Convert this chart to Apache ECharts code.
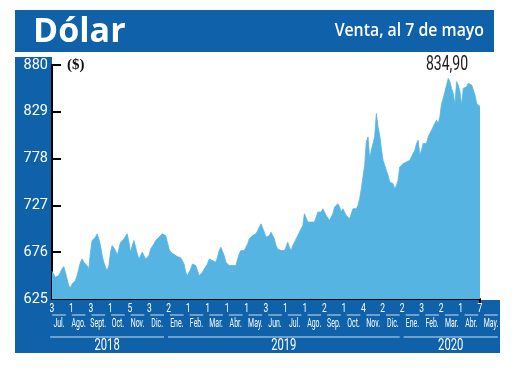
<!DOCTYPE html>
<html>
<head>
<meta charset="utf-8">
<script src="https://cdn.jsdelivr.net/npm/echarts@6/dist/echarts.min.js"></script>
<style>html,body{margin:0;padding:0;background:#fff;}#c{width:520px;height:370px;}</style>
</head>
<body>
<div id="c"></div>
<script>
const title = 'Dólar';
const subtitle = 'Venta, al 7 de mayo';
const unitLabel = '($)';
const lastValueLabel = '834,90';
const yTickLabels = ['625', '676', '727', '778', '829', '880'];
const dayLabels = ['3','1','3','1','5','3','2','1','1','1','1','3','1','1','2','1','4','2','2','3','2','1','7'];
const monthLabels = ['Jul.','Ago.','Sept.','Oct.','Nov.','Dic.','Ene.','Feb.','Mar.','Abr.','May.','Jun.','Jul.','Ago.','Sep.','Oct.','Nov.','Dic.','Ene.','Feb.','Mar.','Abr.','May.'];
const years = ['2018', '2019', '2020'];
const monthsPerYear = [6, 12, 5];
const venta = [
655.2, 654.1, 648.6, 649.4, 650.5, 654.1, 657.8, 660.3, 654.1, 646.8,
639.5, 637.0, 641.4, 643.2, 645.0, 650.5, 657.8, 665.0, 668.7, 665.0,
666.9, 661.4, 657.8, 676.0, 688.7, 686.9, 692.4, 696.0, 690.5, 683.3,
672.3, 665.0, 659.6, 655.9, 661.4, 676.0, 683.3, 681.4, 677.8, 672.3,
674.2, 686.9, 686.9, 690.5, 692.4, 696.0, 686.9, 676.0, 683.3, 688.7,
681.4, 674.2, 668.7, 672.3, 676.0, 672.3, 668.7, 666.9, 672.3, 679.6,
681.4, 685.1, 688.7, 690.5, 692.4, 694.2, 696.0, 696.0, 694.2, 686.9,
679.6, 676.0, 674.2, 673.4, 672.3, 671.2, 670.5, 669.8, 670.5, 663.2,
654.1, 650.5, 652.3, 657.8, 663.2, 665.0, 661.4, 655.9, 650.5,
648.6, 654.1, 657.8, 657.8, 663.2, 668.7, 670.5, 666.9, 668.7, 665.0,
670.5, 677.8, 681.4, 679.6, 672.3, 665.0, 663.2, 661.4, 661.4, 661.4,
659.6, 661.4, 668.7, 674.2, 677.8, 679.6, 677.8, 681.4, 685.1, 690.5,
688.7, 694.2, 696.0, 696.0, 699.7, 703.3, 706.9, 708.8, 697.8, 692.4,
690.5, 694.2, 697.8, 699.7, 690.5, 683.3, 679.6, 679.6, 677.8, 677.8,
677.8, 681.4, 686.9, 681.4, 677.8, 683.3, 686.9, 690.5, 694.2, 697.8,
701.5, 705.1, 717.9, 716.0, 708.8, 710.6, 708.8, 710.6, 708.8, 714.2,
719.7, 721.5, 719.7, 723.3, 721.5, 716.0, 714.2, 710.6, 708.8, 717.9,
725.2, 727.0, 728.8, 725.2, 719.7, 723.3, 721.5, 716.0, 714.2, 712.4,
714.2, 723.3, 725.2, 723.3, 727.0, 734.3, 745.2, 747.0, 770.7, 796.2,
801.7, 778.0, 787.1, 794.4, 801.7, 827.2, 812.6, 803.5, 788.9, 776.2,
774.3, 765.2, 759.8, 752.5, 754.3, 750.7, 745.2, 748.8, 754.3, 768.9,
767.1, 772.5, 770.7, 774.3, 772.5, 776.2, 778.0, 783.5, 787.1, 794.4,
798.0, 781.6, 787.1, 794.4, 792.6, 794.4, 801.7, 805.3, 809.0, 807.1,
816.2, 819.9, 816.2, 823.5, 838.1, 843.6, 850.8, 858.1, 865.4, 861.8,
854.5, 849.0, 836.3, 861.8, 858.1, 850.8, 836.3, 854.5, 852.7, 856.3,
860.0, 858.1, 858.1, 856.3, 847.2, 838.1, 836.3, 834.9
];

const DARK = '#0F62A9';
const AREA = '#56B4E3';
const FONT = 'Roboto, sans-serif';
const LINE = 'rgba(255,255,255,0.8)';

// year spans on the month axis
const yearSpans = [];
let acc = 0;
years.forEach((y, i) => { yearSpans.push([acc, acc + monthsPerYear[i] - 1, 0]); acc += monthsPerYear[i]; });

const chart = echarts.init(document.getElementById('c'), null, {renderer: 'canvas'});
chart.setOption({
  animation: false,
  backgroundColor: '#ffffff',
  graphic: [
    {type: 'rect', z: -10, shape: {x: 15, y: 10, width: 479, height: 42}, style: {fill: DARK}},
    {type: 'rect', z: -10, shape: {x: 15, y: 57, width: 37, height: 243}, style: {fill: DARK}},
    {type: 'rect', z: -10, shape: {x: 15, y: 300, width: 485, height: 53}, style: {fill: DARK}},
    {type: 'text', z: 100, x: 33, y: 32,
     style: {text: title, fill: '#fff', textVerticalAlign: 'middle', font: "bold 34px 'Open Sans', sans-serif"}},
    {type: 'text', z: 100, x: 484, y: 31, scaleX: 0.88,
     style: {text: subtitle, fill: '#fff', textAlign: 'right', textVerticalAlign: 'middle', font: "600 18px 'Open Sans', sans-serif"}},
    {type: 'text', z: 100, x: 67, y: 58,
     style: {text: unitLabel, fill: '#111', font: "bold 15px 'Liberation Serif', serif"}},
    {type: 'text', z: 100, x: 447, y: 65, scaleX: 0.72,
     style: {text: lastValueLabel, fill: '#1a1a1a', textAlign: 'center', textVerticalAlign: 'middle', font: '19.5px ' + FONT}}
  ],
  grid: [
    {left: 52, top: 65, width: 428, height: 234, outerBoundsMode: 'none'},
    {left: 52, top: 300, width: 428, height: 1, outerBoundsMode: 'none'},
    {left: 49.2, top: 300, width: 451.6, height: 15, outerBoundsMode: 'none'}
  ],
  xAxis: [
    {gridIndex: 0, type: 'category', boundaryGap: false, data: venta.map((v, i) => i),
     axisLine: {show: true, lineStyle: {color: '#000', width: 2}},
     axisTick: {show: true, length: 5, interval: (i) => i === venta.length - 1, lineStyle: {color: '#000', width: 2}},
     axisLabel: {show: false}, splitLine: {show: false}},
    {gridIndex: 1, type: 'category', boundaryGap: false, data: dayLabels,
     axisLine: {show: false}, axisTick: {show: false}, splitLine: {show: false}, axisLabel: {show: false}},
    {gridIndex: 2, type: 'category', boundaryGap: true, data: monthLabels,
     axisLine: {show: false}, axisTick: {show: false}, splitLine: {show: false}, axisLabel: {show: false}}
  ],
  yAxis: [
    {gridIndex: 0, type: 'category', boundaryGap: false, data: yTickLabels,
     axisLine: {show: true, lineStyle: {color: '#000', width: 2}},
     axisTick: {show: true, inside: true, length: 9, lineStyle: {color: '#000', width: 2}},
     axisLabel: {interval: 0, margin: 4, color: '#fff', fontFamily: FONT, fontSize: 14.5},
     splitLine: {show: false}},
    {gridIndex: 0, type: 'value', min: 625, max: 880, show: false},
    {gridIndex: 1, type: 'value', min: 0, max: 1, show: false},
    {gridIndex: 2, type: 'value', min: 0, max: 1, show: false}
  ],
  series: [
    {type: 'line', xAxisIndex: 0, yAxisIndex: 1, data: venta, symbol: 'none', smooth: false,
     lineStyle: {color: AREA, width: 0.8}, areaStyle: {color: AREA, opacity: 1}, z: 1},
    // day numbers at month starts
    {type: 'custom', xAxisIndex: 1, yAxisIndex: 2, clip: false,
     data: dayLabels.map((d, i) => [i, 0]),
     encode: {x: 0, y: 1},
     renderItem: (params, api) => {
       const c = api.coord([api.value(0), 0]);
       return {type: 'text', x: c[0], y: 302, scaleX: 0.68,
               style: {text: dayLabels[params.dataIndex], fill: '#fff', textAlign: 'center', textVerticalAlign: 'top', font: '12.5px ' + FONT}};
     }},
    // month names and underline segments
    {type: 'custom', xAxisIndex: 2, yAxisIndex: 3, clip: false,
     data: monthLabels.map((m, i) => [i, 0]),
     encode: {x: 0, y: 1},
     renderItem: (params, api) => {
       const c = api.coord([api.value(0), 0]);
       const band = api.size([1, 0])[0];
       return {type: 'group', children: [
         {type: 'line', shape: {x1: c[0] - band / 2 + 3, y1: c[1], x2: c[0] + band / 2 - 3, y2: c[1]},
          style: {stroke: LINE, lineWidth: 1}},
         {type: 'text', x: c[0], y: c[1] + 2.5, scaleX: 0.58,
          style: {text: monthLabels[params.dataIndex], fill: '#fff', textAlign: 'center', textVerticalAlign: 'top', font: '12px ' + FONT}}
       ]};
     }},
    // year lines and labels
    {type: 'custom', xAxisIndex: 2, yAxisIndex: 3, clip: false,
     data: yearSpans,
     encode: {x: [0, 1], y: 2},
     renderItem: (params, api) => {
       const s = api.coord([api.value(0), 0]);
       const e = api.coord([api.value(1), 0]);
       const band = api.size([1, 0])[0];
       const x1 = s[0] - band / 2 + 1, x2 = e[0] + band / 2 - 3;
       const y = s[1] + 22;
       return {type: 'group', children: [
         {type: 'line', shape: {x1: x1, y1: y, x2: x2, y2: y}, style: {stroke: LINE, lineWidth: 1}},
         {type: 'text', x: (x1 + x2) / 2, y: y + 9, scaleX: 0.66,
          style: {text: years[params.dataIndex], fill: '#fff', textAlign: 'center', textVerticalAlign: 'middle',
                  font: '17px ' + FONT}}
       ]};
     }}
  ]
});
</script>
</body>
</html>
